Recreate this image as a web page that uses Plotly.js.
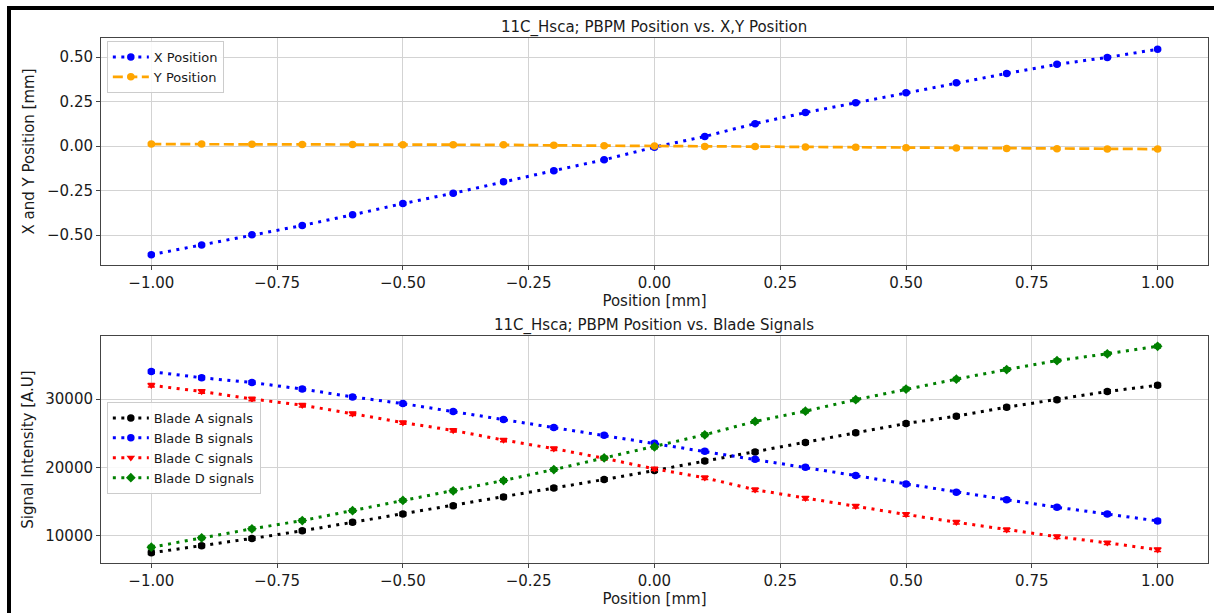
<!DOCTYPE html>
<html>
<head>
<meta charset="utf-8">
<script src="https://cdn.plot.ly/plotly-3.0.1.min.js"></script>
<style>
  html, body { margin: 0; padding: 0; background: #ffffff; }
  #chart { position: absolute; left: 0; top: 0; width: 1214px; height: 613px; }
  #frame { position: absolute; left: 7px; top: 6px; width: 1300px; height: 700px;
           border-left: 4px solid #000; border-top: 4px solid #000; pointer-events: none; }
</style>
</head>
<body>
<div id="chart"></div>
<div id="frame"></div>
<script>
// ---- data ----
const positions = [-1.0,-0.9,-0.8,-0.7,-0.6,-0.5,-0.4,-0.3,-0.2,-0.1,0.0,0.1,0.2,0.3,0.4,0.5,0.6,0.7,0.8,0.9,1.0];
const xPosition = [-0.610,-0.555,-0.498,-0.446,-0.386,-0.323,-0.265,-0.200,-0.138,-0.077,-0.006,0.054,0.126,0.188,0.244,0.300,0.356,0.408,0.459,0.498,0.544];
const yPosition = [0.011,0.011,0.010,0.009,0.009,0.008,0.008,0.007,0.004,0.002,0.000,-0.002,-0.003,-0.005,-0.007,-0.010,-0.011,-0.013,-0.015,-0.016,-0.017];
const bladeA = [7550,8570,9640,10750,12000,13200,14400,15700,17000,18250,19560,20960,22280,23650,25060,26430,27500,28800,29900,31100,32000];
const bladeB = [34000,33100,32400,31450,30300,29330,28160,27000,25850,24700,23550,22380,21210,20040,18820,17600,16400,15300,14200,13200,12200];
const bladeC = [32000,31100,30000,29100,27850,26550,25420,24000,22750,21350,19800,18500,16750,15520,14350,13140,12000,10900,9900,9000,8000];
const bladeD = [8360,9730,11050,12250,13700,15200,16600,18100,19700,21400,23000,24780,26720,28230,29900,31450,32900,34300,35600,36600,37700];
const posErr = 0.006;
const sigErr = 250;

const titleTop = "11C_Hsca; PBPM Position vs. X,Y Position";
const titleBottom = "11C_Hsca; PBPM Position vs. Blade Signals";
const xTitle = "Position [mm]";
const yTitleTop = "X and Y Position [mm]";
const yTitleBottom = "Signal Intensity [A.U]";

// ---- traces ----
const DOT = '3px,5.5px';
const DASH = '10px,4.5px';
function tr(name, x, y, color, dash, symbol, xa, ya, legend, err, lw) {
  return {
    type: 'scatter', mode: 'lines+markers', name: name, x: x, y: y,
    xaxis: xa, yaxis: ya, legend: legend,
    line: { color: color, dash: dash, width: lw },
    marker: { color: color, size: 7.5, symbol: symbol },
    error_y: { type: 'constant', value: err, color: color, thickness: 1.5, width: 3.5, visible: true }
  };
}
const traces = [
  tr('X Position', positions, xPosition, '#0000ff', DOT, 'circle', 'x', 'y', 'legend', posErr, 3),
  tr('Y Position', positions, yPosition, '#ffa500', DASH, 'circle', 'x', 'y', 'legend', posErr, 2.7),
  tr('Blade A signals', positions, bladeA, '#000000', DOT, 'circle', 'x2', 'y2', 'legend2', sigErr, 3),
  tr('Blade B signals', positions, bladeB, '#0000ff', DOT, 'circle', 'x2', 'y2', 'legend2', sigErr, 3),
  tr('Blade C signals', positions, bladeC, '#ff0000', DOT, 'triangle-down', 'x2', 'y2', 'legend2', sigErr, 3),
  tr('Blade D signals', positions, bladeD, '#008000', DOT, 'diamond', 'x2', 'y2', 'legend2', sigErr, 3)
];

const font = { family: 'DejaVu Sans, sans-serif', size: 15, color: '#1a1a1a' };
const legendFont = { family: 'DejaVu Sans, sans-serif', size: 13, color: '#1a1a1a' };
const axisCommon = {
  showline: true, mirror: true, linecolor: '#444', linewidth: 1,
  showgrid: true, gridcolor: '#d3d3d3', gridwidth: 1,
  ticks: 'outside', ticklen: 4, tickcolor: '#444',
  zeroline: false, tickfont: font
};
const xd = [0.0832, 0.995];

const layout = {
  width: 1214, height: 613,
  margin: { l: 0, r: 0, t: 0, b: 0 },
  paper_bgcolor: '#ffffff', plot_bgcolor: '#ffffff',
  font: font, showlegend: true,
  xaxis: Object.assign({}, axisCommon, {
    domain: xd, anchor: 'y', range: [-1.1, 1.1], tickvals: [-1,-0.75,-0.5,-0.25,0,0.25,0.5,0.75,1], tickformat: '.2f',
    title: { text: xTitle, font: font, standoff: 3 }
  }),
  yaxis: Object.assign({}, axisCommon, {
    domain: [0.5677, 0.938], anchor: 'x', range: [-0.668, 0.607], tickvals: [-0.5,-0.25,0,0.25,0.5], tickformat: '.2f',
    title: { text: yTitleTop, font: font, standoff: 8 }
  }),
  xaxis2: Object.assign({}, axisCommon, {
    domain: xd, anchor: 'y2', range: [-1.1, 1.1], tickvals: [-1,-0.75,-0.5,-0.25,0,0.25,0.5,0.75,1], tickformat: '.2f',
    title: { text: xTitle, font: font, standoff: 3 }
  }),
  yaxis2: Object.assign({}, axisCommon, {
    domain: [0.0816, 0.4519], anchor: 'x2', range: [6060, 39200], tickvals: [10000, 20000, 30000], tickformat: 'd',
    title: { text: yTitleBottom, font: font, standoff: 8 }
  }),
  legend: {
    x: 0.088, y: 1 - 41/613, xanchor: 'left', yanchor: 'top',
    bgcolor: 'rgba(255,255,255,0.85)', bordercolor: '#cccccc', borderwidth: 1,
    font: legendFont, tracegroupgap: 0, itemwidth: 36
  },
  legend2: {
    x: 0.088, y: 1 - 402/613, xanchor: 'left', yanchor: 'top',
    bgcolor: 'rgba(255,255,255,0.85)', bordercolor: '#cccccc', borderwidth: 1,
    font: legendFont, tracegroupgap: 0, itemwidth: 36
  },
  annotations: [
    { text: titleTop, xref: 'paper', yref: 'paper', x: 0.539, y: 1 - 27/613, xanchor: 'center', yanchor: 'middle', showarrow: false, font: font },
    { text: titleBottom, xref: 'paper', yref: 'paper', x: 0.539, y: 1 - 325/613, xanchor: 'center', yanchor: 'middle', showarrow: false, font: font }
  ]
};

Plotly.newPlot('chart', traces, layout, { displayModeBar: false, staticPlot: true });
</script>
</body>
</html>
